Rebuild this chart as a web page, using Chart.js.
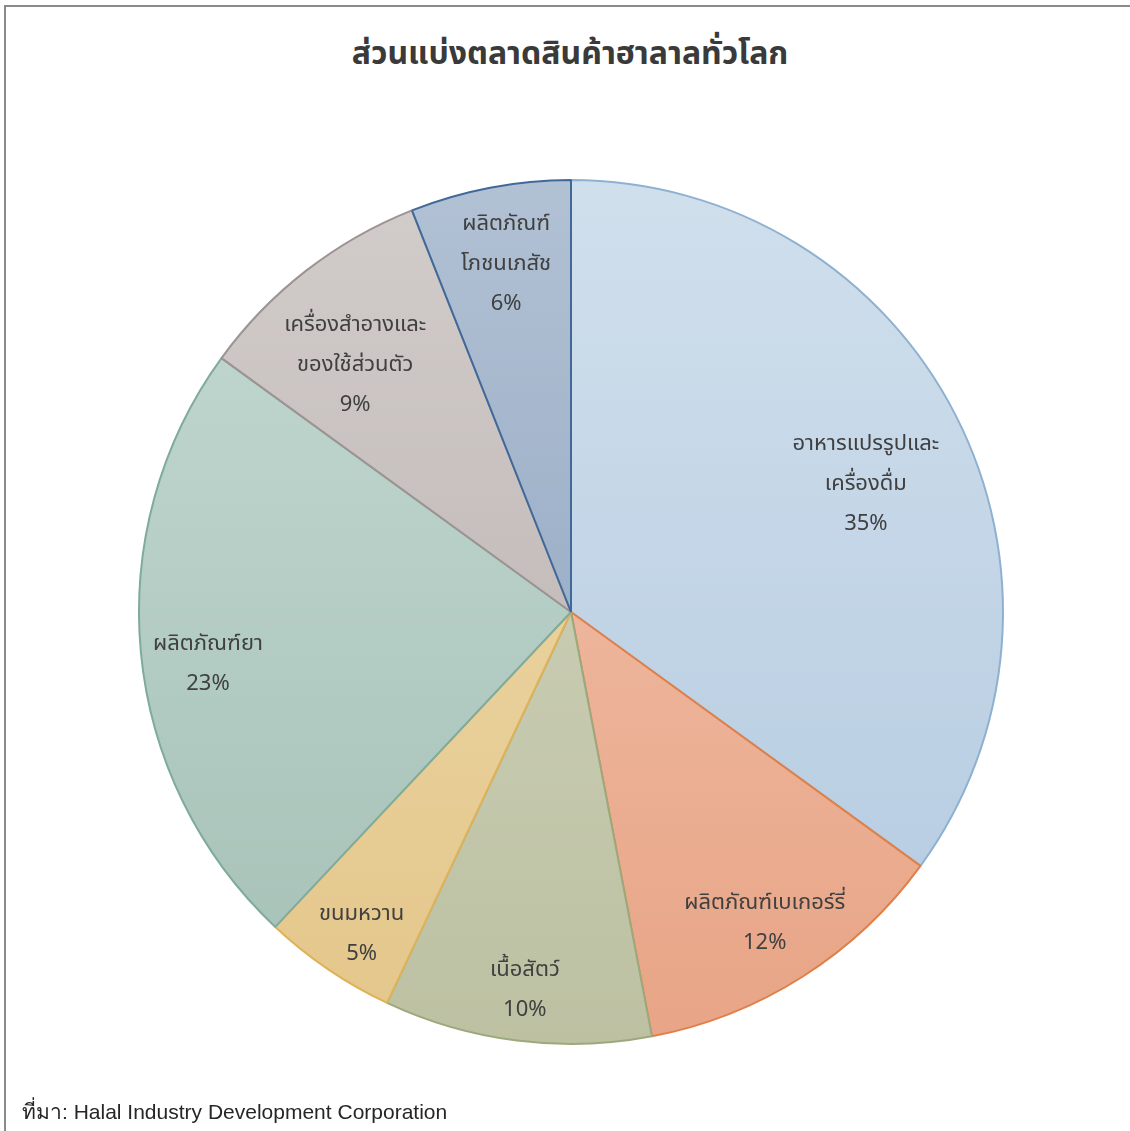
<!DOCTYPE html>
<html lang="th">
<head>
<meta charset="utf-8">
<title>ส่วนแบ่งตลาดสินค้าฮาลาลทั่วโลก</title>
<script src="https://cdn.jsdelivr.net/npm/chart.js@4/dist/chart.umd.min.js"></script>
<style>
  html, body { margin: 0; padding: 0; background: #fff; }
  body { width: 1130px; height: 1131px; position: relative; overflow: hidden;
         font-family: Tahoma, "Noto Sans Thai", "Noto Sans", "DejaVu Sans", sans-serif; }
  #frame { position: absolute; left: 4px; top: 5px; right: -4px; bottom: -4px;
           border-top: 2px solid #8a8a8a; border-left: 2px solid #8a8a8a; }
  #title { position: absolute; left: 0; width: 1140px; top: 30px; text-align: center;
           font-size: 32px; font-weight: bold; color: #3a3a3a; }
  #source { position: absolute; left: 22px; top: 1095px; font-size: 21px; color: #262626;
            font-family: Arial, "Liberation Sans", "Noto Sans", sans-serif; }
  #wrap { position: absolute; left: 0; top: 0; width: 1130px; height: 1131px; }
</style>
</head>
<body>
<div id="frame"></div>
<div id="title">ส่วนแบ่งตลาดสินค้าฮาลาลทั่วโลก</div>
<div id="wrap"><canvas id="pie"></canvas></div>
<div id="source">ที่มา: Halal Industry Development Corporation</div>
<script>
// --- Data ---
const categories = [
  ["อาหารแปรรูปและ", "เครื่องดื่ม"],
  ["ผลิตภัณฑ์เบเกอร์รี่"],
  ["เนื้อสัตว์"],
  ["ขนมหวาน"],
  ["ผลิตภัณฑ์ยา"],
  ["เครื่องสำอางและ", "ของใช้ส่วนตัว"],
  ["ผลิตภัณฑ์", "โภชนเภสัช"]
];
const shares = [35, 12, 10, 5, 23, 9, 6];

// --- Styles (light top / dark bottom gradient, border) ---
const fillTop = ["#d0dfec", "#f2c6b0", "#d2d5c0", "#f0dcae", "#c4dad3", "#d2cccb", "#b2c1d4"];
const fillBottom = ["#b3cae0", "#e8a486", "#bdc1a2", "#e3c68a", "#a5c0b6", "#b6aeac", "#879fbc"];
const borderColors = ["#8fb1d1", "#e08048", "#9ca97c", "#dfb257", "#7eab9c", "#9c9492", "#40699a"];
// label placement: fraction of radius, and angular nudge (degrees) from slice middle
const labelRadius = [0.746, 0.844, 0.877, 0.885, 0.848, 0.763, 0.824];
const labelNudge = [3.2, 0.3, -0.2, -1, -2.3, -3.1, 0.3];

function sliceFill(ctx) {
  const chart = ctx.chart;
  const area = chart.chartArea;
  if (!area) return fillBottom[ctx.dataIndex];
  const g = chart.ctx.createLinearGradient(0, area.top, 0, area.bottom);
  g.addColorStop(0, fillTop[ctx.dataIndex]);
  g.addColorStop(1, fillBottom[ctx.dataIndex]);
  return g;
}

const sliceLabels = {
  id: "sliceLabels",
  afterDatasetsDraw(chart) {
    const ctx = chart.ctx;
    const meta = chart.getDatasetMeta(0);
    ctx.save();
    ctx.font = '22px Tahoma, "Noto Sans Thai", "Noto Sans", sans-serif';
    ctx.fillStyle = "#404040";
    ctx.textAlign = "center";
    ctx.textBaseline = "middle";
    meta.data.forEach((arc, i) => {
      const mid = (arc.startAngle + arc.endAngle) / 2 + labelNudge[i] * Math.PI / 180;
      const r = arc.outerRadius * labelRadius[i];
      const cx = arc.x + Math.cos(mid) * r;
      const cy = arc.y + Math.sin(mid) * r + 4;
      const lines = categories[i].concat([shares[i] + "%"]);
      const step = 40;
      const y0 = cy - (lines.length - 1) * step / 2;
      lines.forEach((t, k) => ctx.fillText(t, cx, y0 + k * step));
    });
    ctx.restore();
  }
};

new Chart(document.getElementById("pie"), {
  type: "pie",
  data: {
    labels: categories,
    datasets: [{
      data: shares,
      backgroundColor: sliceFill,
      borderColor: borderColors,
      borderWidth: 2
    }]
  },
  options: {
    responsive: true,
    maintainAspectRatio: false,
    animation: false,
    layout: { padding: { left: 138, right: 126, top: 179, bottom: 86 } },
    plugins: {
      legend: { display: false },
      tooltip: { enabled: false },
      title: { display: false }
    }
  },
  plugins: [sliceLabels]
});
</script>
</body>
</html>
